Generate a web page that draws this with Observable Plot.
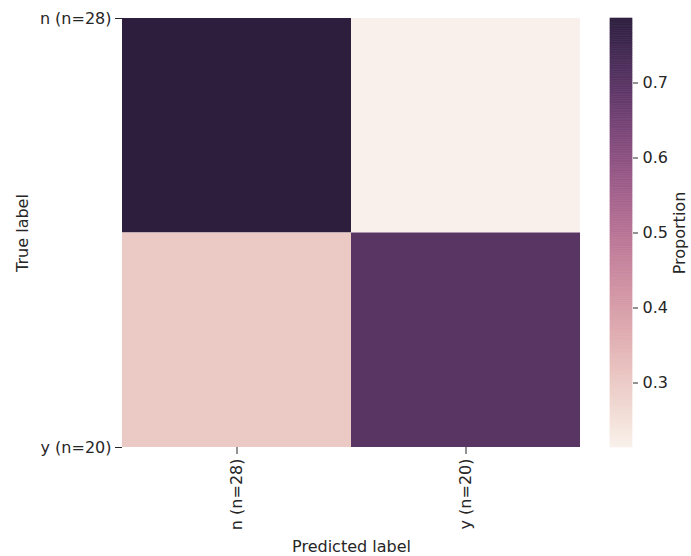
<!DOCTYPE html>
<html>
<head>
<meta charset="utf-8">
<script src="https://cdn.jsdelivr.net/npm/d3@7"></script>
<script src="https://cdn.jsdelivr.net/npm/@observablehq/plot@0.6"></script>
<style>
  html, body { margin: 0; padding: 0; background: #fff; }
  #chart { position: relative; width: 691px; height: 556px; overflow: hidden; }
  #chart > svg { position: absolute; top: 0; }
</style>
</head>
<body>
<div id="chart"></div>
<script>
// Confusion matrix: row = true label, column = predicted label, values are row proportions
const predictedLabels = ["n (n=28)", "y (n=20)"];
const trueLabels = ["n (n=28)", "y (n=20)"];
const proportionTrueN = [0.786, 0.214];
const proportionTrueY = [0.3, 0.7];
const colorbarTicks = [0.3, 0.4, 0.5, 0.6, 0.7];

const rows = [proportionTrueN, proportionTrueY];
const cells = trueLabels.flatMap((t, i) =>
  predictedLabels.map((p, j) => ({trueLabel: t, row: i, predicted: p, value: rows[i][j]}))
);

// seaborn-style cubehelix colormap (light = 0.95, dark = 0.15)
function cubehelix(x) {
  const start = 0, rot = 0.4, gamma = 1, hue = 0.8;
  const xg = Math.pow(x, gamma);
  const a = hue * xg * (1 - xg) / 2;
  const phi = 2 * Math.PI * (start / 3 + rot * x);
  const ch = (p0, p1) => Math.max(0, Math.min(1, xg + a * (p0 * Math.cos(phi) + p1 * Math.sin(phi))));
  return d3.rgb(255 * ch(-0.14861, 1.78277), 255 * ch(-0.29227, -0.90649), 255 * ch(1.97294, 0)).formatHex();
}
const light = 0.95, dark = 0.15;
const extent = d3.extent(cells, d => d.value);
const colorScale = {
  type: "linear",
  domain: extent,
  interpolate: t => cubehelix(light + (dark - light) * t)
};

const font = {fontFamily: "DejaVu Sans, sans-serif", fontSize: "16px", color: "#262626", background: "transparent"};

const heatmap = Plot.plot({
  width: 600,
  height: 556,
  marginLeft: 122,
  marginRight: 20,
  marginTop: 18,
  marginBottom: 109,
  style: font,
  x: {type: "band", domain: predictedLabels, padding: 0, axis: null},
  y: {domain: [0, 2], reverse: true, axis: null},
  color: colorScale,
  marks: [
    Plot.barY(cells, {x: "predicted", y1: "row", y2: d => d.row + 1, fill: "value", inset: 0}),
    Plot.axisX({
      tickSize: 7,
      tickPadding: 4,
      tickRotate: -90,
      label: "Predicted label",
      labelAnchor: "center",
      labelOffset: 104,
      labelArrow: "none"
    }),
    Plot.axisY({
      ticks: [0, 2],
      tickFormat: d => trueLabels[d / 2],
      tickSize: 7,
      tickPadding: 4,
      label: "True label",
      labelAnchor: "center",
      labelOffset: 106,
      labelArrow: "none"
    })
  ]
});
heatmap.style.left = "0px";

// Vertical colorbar drawn from the same color scale
const nSteps = 240;
const steps = d3.range(nSteps).map(i => ({
  lo: extent[0] + (extent[1] - extent[0]) * i / nSteps,
  hi: extent[0] + (extent[1] - extent[0]) * (i + 1) / nSteps
}));
const colorbar = Plot.plot({
  width: 91,
  height: 556,
  marginLeft: 10,
  marginRight: 59,
  marginTop: 18,
  marginBottom: 109,
  style: font,
  x: {domain: [0, 1], axis: null},
  y: {domain: extent, axis: null},
  color: colorScale,
  marks: [
    Plot.rect(steps, {x1: 0, x2: 1, y1: "lo", y2: "hi", fill: d => (d.lo + d.hi) / 2, stroke: d => (d.lo + d.hi) / 2, strokeWidth: 0.6}),
    Plot.axisY({
      anchor: "right",
      ticks: colorbarTicks,
      tickFormat: d3.format(".1f"),
      tickSize: 5,
      tickPadding: 5,
      label: "Proportion",
      labelAnchor: "center",
      labelOffset: 52,
      labelArrow: "none"
    })
  ]
});
colorbar.style.left = "600px";

const chart = document.getElementById("chart");
chart.append(heatmap, colorbar);
</script>
</body>
</html>
